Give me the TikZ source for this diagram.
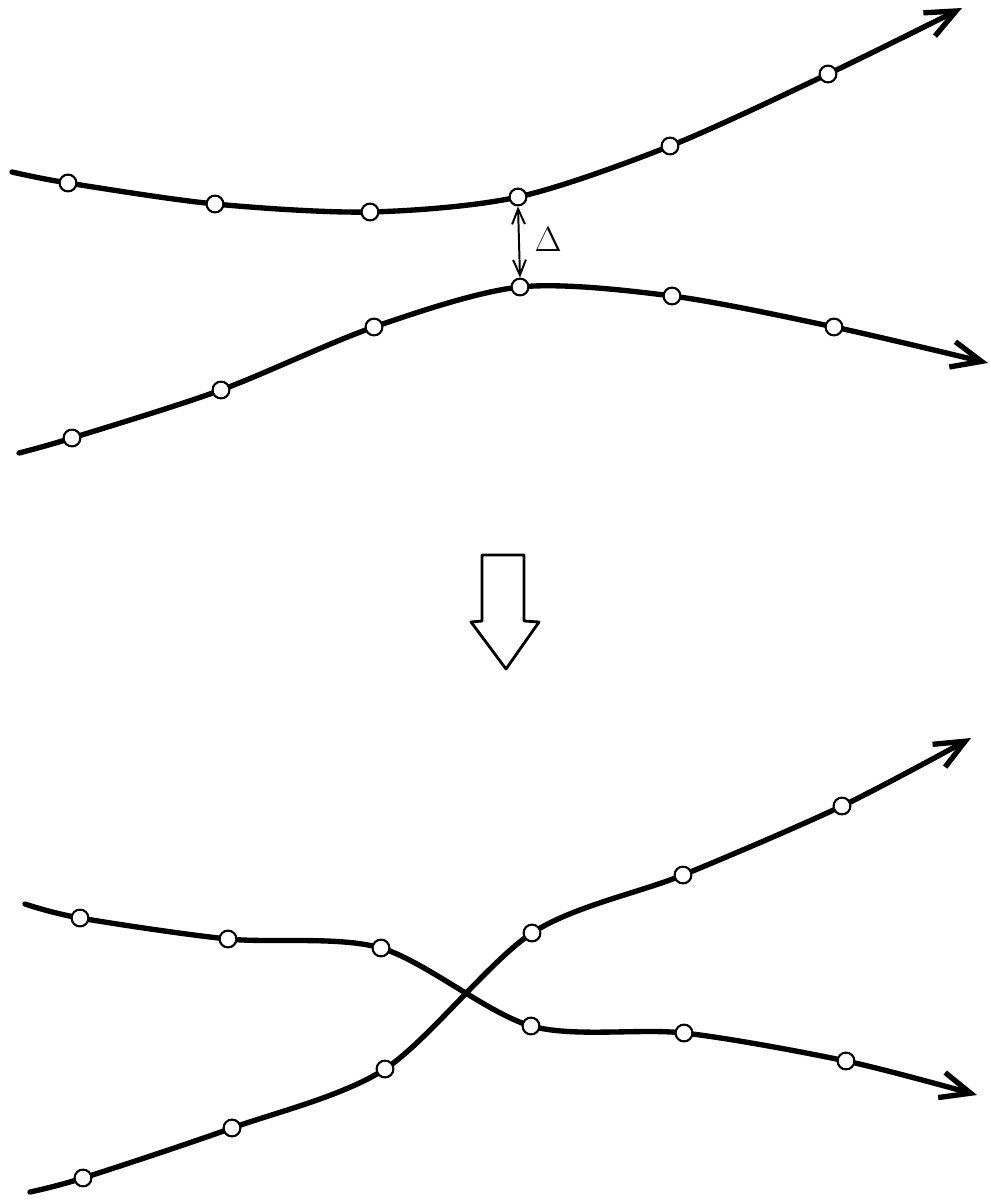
\documentclass[tikz,border=0pt]{standalone}
\usetikzlibrary{arrows.meta,backgrounds}
\begin{document}
\begin{tikzpicture}[x=0.25mm,y=-0.25mm,
  dot/.style={circle,draw,fill=white,line width=1.5pt,inner sep=0,minimum size=4.2mm},
  track/.style={line width=3.8pt,line cap=round,line join=round},
  tip/.style={-{Straight Barb[length=7.5mm,width=6.5mm]}}]
\useasboundingbox (0,0) rectangle (989,1202);
% upper pair of tracks
\coordinate (a0) at (12,172);
\node[dot] (a1) at (68,183) {};
\node[dot] (a2) at (215,204) {};
\node[dot] (a3) at (370,212) {};
\node[dot] (a4) at (518,197) {};
\node[dot] (a5) at (670,146) {};
\node[dot] (a6) at (828,74) {};
\coordinate (a7) at (962,8);
\coordinate (b0) at (19,453);
\node[dot] (b1) at (72,438) {};
\node[dot] (b2) at (221,390) {};
\node[dot] (b3) at (374,327) {};
\node[dot] (b4) at (520,287) {};
\node[dot] (b5) at (672,296) {};
\node[dot] (b6) at (834,327) {};
\coordinate (b7) at (988,363);
\begin{scope}[on background layer]
\draw[track,tip] plot[smooth,tension=0.5] coordinates {(a0) (a1.center) (a2.center) (a3.center) (a4.center) (a5.center) (a6.center) (a7)};
\draw[track,tip] plot[smooth,tension=0.5] coordinates {(b0) (b1.center) (b2.center) (b3.center) (b4.center) (b5.center) (b6.center) (b7)};
\end{scope}
\draw[line width=1.4pt,{Straight Barb[length=3.8mm,width=3.2mm]}-{Straight Barb[length=3.8mm,width=3.2mm]}] (a4.south) -- (b4.north);
\node[font=\fontsize{28}{32}\selectfont] (gap) at (548,240) {$\Delta$};
% big arrow
\draw[line width=2pt,line join=round] (482,555) -- (524,555) -- (524,621) -- (539,622) -- (506,669) -- (471,622) -- (482,621) -- cycle;
% lower pair of tracks, crossed
\coordinate (c0) at (25,904);
\node[dot] (c1) at (80,918) {};
\node[dot] (c2) at (228,939) {};
\node[dot] (c3) at (381,948) {};
\node[dot] (c4) at (531,1026) {};
\node[dot] (c5) at (684,1033) {};
\node[dot] (c6) at (846,1061) {};
\coordinate (c7) at (977,1095);
\coordinate (d0) at (30,1192);
\node[dot] (d1) at (83,1178) {};
\node[dot] (d2) at (232,1128) {};
\node[dot] (d3) at (385,1069) {};
\node[dot] (d4) at (532,933) {};
\node[dot] (d5) at (683,875) {};
\node[dot] (d6) at (842,806) {};
\coordinate (d7) at (971,738);
\begin{scope}[on background layer]
\draw[track,tip] plot[smooth,tension=0.5] coordinates {(c0) (c1.center) (c2.center) (c3.center) (c4.center) (c5.center) (c6.center) (c7)};
\draw[track,tip] plot[smooth,tension=0.5] coordinates {(d0) (d1.center) (d2.center) (d3.center) (d4.center) (d5.center) (d6.center) (d7)};
\end{scope}
\end{tikzpicture}
\end{document}
